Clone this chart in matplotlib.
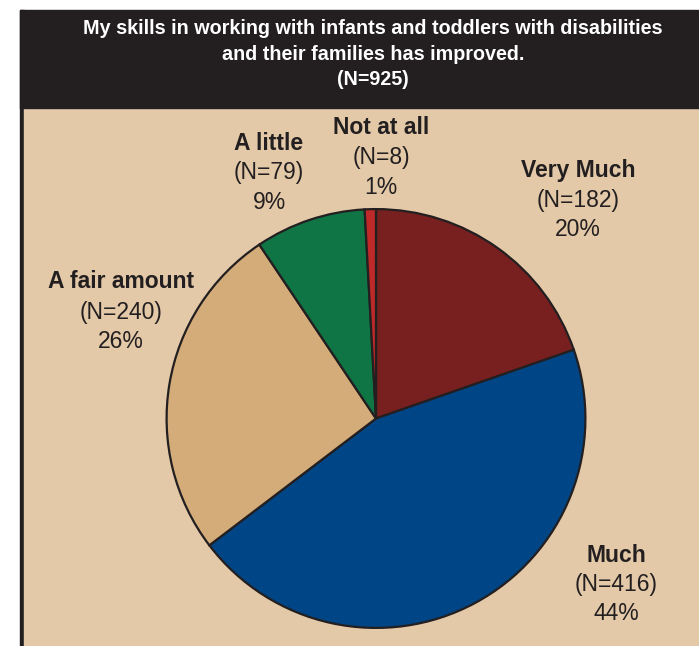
import matplotlib.pyplot as plt
from matplotlib.patches import Rectangle

# survey responses
categories = ['Very Much', 'Much', 'A fair amount', 'A little', 'Not at all']
counts = [182, 416, 240, 79, 8]
percents = [20, 44, 26, 9, 1]
colors = ['#77201F', '#004585', '#D3AC7A', '#0F7544', '#BE2A2A']

title = ('My skills in working with infants and toddlers with disabilities\n'
         'and their families has improved.\n(N=925)')

# label centres in figure pixels (x, y of top line)
label_pos = [(578, 171), (616, 555), (121, 282), (269, 143), (381, 128)]

W, H = 699, 646
fig = plt.figure(figsize=(W / 100, H / 100), dpi=100)
fig.patch.set_facecolor('white')
plt.rcParams['font.family'] = ['Liberation Sans', 'DejaVu Sans']

def px(x, y):
    """pixel coords (top-left origin) -> figure fraction"""
    return x / W, 1 - y / H

# frame: header band, beige panel, left border
fig.patches.append(Rectangle((20 / W, 0), 4 / W, 1 - 10 / H,
                             transform=fig.transFigure, color='#231F20', zorder=-2))
fig.patches.append(Rectangle((24 / W, 0), 1, 1 - 108 / H,
                             transform=fig.transFigure, color='#E3C9A8', zorder=-2))
fig.patches.append(Rectangle((20 / W, 1 - 108 / H), 1, 98 / H,
                             transform=fig.transFigure, color='#231F20', zorder=-2))

fig.text(*px(373, 54), title, ha='center', va='center', color='white',
         fontsize=14.2, fontweight='bold', linespacing=1.45)

# pie
cx, cy, r = 376, 418.5, 211.5
ax = fig.add_axes([(cx - r) / W, (H - cy - r) / H, 2 * r / W, 2 * r / H])
ax.set_zorder(2)
ax.patch.set_visible(False)
ax.pie(counts, colors=colors, startangle=90, counterclock=False,
       wedgeprops={'edgecolor': '#231F20', 'linewidth': 1.6})
ax.set_xlim(-1.01, 1.01)
ax.set_ylim(-1.01, 1.01)
ax.set_aspect('equal')
ax.axis('off')

for name, n, pct, (x, y) in zip(categories, counts, percents, label_pos):
    fig.text(*px(x, y), name, ha='center', va='center', fontsize=16.5,
             fontweight='bold', color='#231F20')
    fig.text(*px(x, y + 30), f'(N={n})', ha='center', va='center',
             fontsize=16.5, color='#231F20')
    fig.text(*px(x, y + 59), f'{pct}%', ha='center', va='center',
             fontsize=16.5, color='#231F20')

fig.savefig('out.png', dpi=100)
